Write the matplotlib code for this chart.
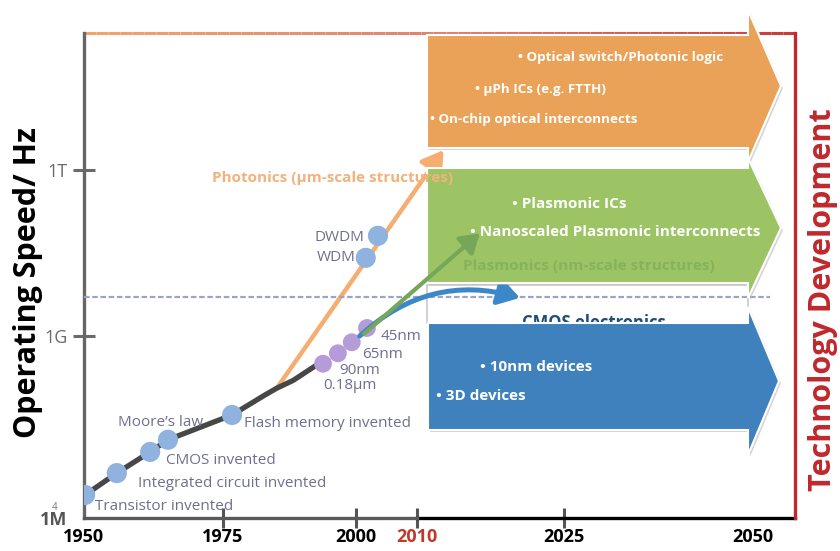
import numpy as np
import matplotlib
matplotlib.use('Agg')
import matplotlib.pyplot as plt
from matplotlib.patches import Polygon, Rectangle
from matplotlib.collections import LineCollection
from matplotlib.colors import LinearSegmentedColormap

plt.rcParams['font.family'] = ['Open Sans', 'DejaVu Sans']

# ---- data (year, operating speed in Hz) ----
milestone_labels = ['Transistor invented', 'Integrated circuit invented', 'CMOS invented',
                    'Moore\u2019s law', 'Flash memory invented']
milestone_years = [1950.2, 1955.9, 1961.9, 1965.1, 1976.7]
milestone_hz = [2.4e6, 5.5e6, 1.23e7, 1.95e7, 5.0e7]

trend_years = [1950.2, 1955.9, 1961.9, 1965.1, 1976.7, 1982.9, 1985.1, 1988.2, 1992.3, 1993.8]
trend_hz = [2.4e6, 5.5e6, 1.23e7, 1.95e7, 5.0e7, 1.07e8, 1.38e8, 1.86e8, 3.2e8, 3.5e8]

node_labels = ['0.18\u00b5m', '90nm', '65nm', '45nm']
node_years = [1993.8, 1996.6, 1999.2, 2001.8]
node_hz = [3.5e8, 5.2e8, 7.9e8, 1.4e9]

wdm_labels = ['WDM', 'DWDM']
wdm_years = [2001.6, 2003.6]
wdm_hz = [2.6e10, 6.5e10]

photonics_from = (1985.1, 1.38e8)
photonics_to = (2012.7, 2.3e12)
plasmonics_from = (2001.3, 1.1e9)
plasmonics_to = (2016.4, 7.2e10)
cmos_from = (2000.6, 1.0e9)
cmos_to = (2020.5, 4.9e9)
cmos_limit_hz = 5e9

year_ticks = [1950, 1975, 2000, 2010, 2025, 2050]
speed_ticks = [1e6, 1e9, 1e12]
speed_tick_labels = ['1M', '1G', '1T']

photonics_items = ['\u2022 Optical switch/Photonic logic', '\u2022 \u00b5Ph ICs (e.g. FTTH)',
                   '\u2022 On-chip optical interconnects']
plasmonics_items = ['\u2022 Plasmonic ICs', '\u2022 Nanoscaled Plasmonic interconnects']
cmos_items = ['\u2022 10nm devices', '\u2022 3D devices']

# ---- layout (pixels of the 840x551 picture) ----
W, H = 840, 551
YEAR_BREAKS = [1900, 1950, 1975, 2000, 2010, 2025, 2050, 2100]
YEAR_PIX = [-278, 0, 139, 272, 333, 480, 669, 1047]
LOG_BREAKS = [0, 6, 9, 12, 20]
LOG_PIX = [-364, 0, 182, 348, 790.6]


def x_fwd(v):
    return np.interp(v, YEAR_BREAKS, YEAR_PIX)


def x_inv(p):
    return np.interp(p, YEAR_PIX, YEAR_BREAKS)


def y_fwd(v):
    return np.interp(np.log10(np.clip(v, 1e-10, None)), LOG_BREAKS, LOG_PIX)


def y_inv(p):
    return 10 ** np.interp(p, LOG_PIX, LOG_BREAKS)


def P(x, y):
    return (x / W, 1 - y / H)


def arrow_shape(x0, x1, top, bot, head_top, head_bot, tip_x):
    tip_y = (head_top + head_bot) / 2
    return [P(x0, top), P(x1, top), P(x1, head_top), P(tip_x, tip_y),
            P(x1, head_bot), P(x1, bot), P(x0, bot)]


fig = plt.figure(figsize=(W / 100, H / 100), dpi=100)
ax = fig.add_axes([84 / W, 1 - 518 / H, 711 / W, 485 / H])
ax.set_xscale('function', functions=(x_fwd, x_inv))
ax.set_yscale('function', functions=(y_fwd, y_inv))
ax.set_xlim(1950, 2055.56)
ax.set_ylim(1e6, 10 ** 14.48)

# frame
ax.spines['left'].set_color('#666666')
ax.spines['left'].set_linewidth(2.4)
ax.spines['bottom'].set_color('#5a5a5a')
ax.spines['bottom'].set_linewidth(2.4)
ax.spines['bottom'].set_bounds(1950, 2010)
ax.spines['right'].set_color('#c0282d')
ax.spines['right'].set_linewidth(2.4)
ax.spines['top'].set_visible(False)
ax.axhline(1e6, xmin=x_fwd(2010) / 711, xmax=1, color='black', lw=2.4, zorder=2, clip_on=False)

cmap = LinearSegmentedColormap.from_list('top', ['#f2a46e', '#e08070', '#c8383a'])
xs = np.linspace(0, 1, 60)
segs = [[(xs[i], 1), (xs[i + 1], 1)] for i in range(len(xs) - 1)]
top_line = LineCollection(segs, colors=cmap(xs[:-1]), linewidths=2.2, transform=ax.transAxes,
                          clip_on=False, zorder=2)
ax.add_collection(top_line)

# ticks
ax.set_xticks(year_ticks)
ax.set_xticklabels([str(y) for y in year_ticks], fontsize=13, fontweight='bold')
ax.tick_params(axis='x', direction='inout', length=14, width=2.2, color='#555555', pad=0.5)
xt = ax.xaxis.get_major_ticks()
xt[0].tick1line.set_visible(False)
xt[5].tick1line.set_visible(False)
xt[3].tick1line.set_color('#e2806c')
xt[3].label1.set_color('#c0392b')
xt[4].tick1line.set_color('black')

ax.set_yticks(speed_ticks)
ax.set_yticklabels(speed_tick_labels, fontsize=13, color='#6b6b6b')
ax.tick_params(axis='y', direction='inout', length=16, width=2.2, color='#6b6b6b', pad=4)
ax.yaxis.get_major_ticks()[0].tick1line.set_visible(False)
ax.yaxis.get_major_ticks()[0].label1.set_color('#555555')
ax.yaxis.get_major_ticks()[0].label1.set_fontweight('bold')
ax.text(*P(55, 507), '4', transform=fig.transFigure, fontsize=7, color='#777777',
        ha='center', va='center')

# CMOS limit line
ax.axhline(cmos_limit_hz, xmin=0, xmax=0.965, color='#9aa4c8', lw=1.6,
           linestyle=(0, (2.5, 1.2)), zorder=4.3)

# trend and branches
ax.plot(trend_years, trend_hz, color='#474747', lw=3.8, solid_capstyle='round', zorder=3)
ax.annotate('', xy=photonics_to, xytext=photonics_from, zorder=2.5,
            arrowprops=dict(arrowstyle='-|>,head_length=0.8,head_width=0.5', color='#f5ad70',
                            lw=3.2, shrinkA=0, shrinkB=0, mutation_scale=16))
ax.annotate('', xy=plasmonics_to, xytext=plasmonics_from, zorder=6,
            arrowprops=dict(arrowstyle='-|>,head_length=0.7,head_width=0.45', color='#76a657',
                            lw=3.0, shrinkA=0, shrinkB=0, mutation_scale=16))
ax.annotate('', xy=cmos_to, xytext=cmos_from, zorder=4.6,
            arrowprops=dict(arrowstyle='-|>,head_length=0.8,head_width=0.5', color='#3b87c8',
                            lw=3.6, shrinkA=0, shrinkB=0, mutation_scale=16,
                            connectionstyle='arc3,rad=-0.28'))

ax.scatter(milestone_years, milestone_hz, s=210, color='#8fb2de', edgecolors='none', zorder=4)
ax.scatter(wdm_years, wdm_hz, s=210, color='#8fb2de', edgecolors='none', zorder=4)
ax.scatter(node_years, node_hz, s=165, color='#b59bd8', edgecolors='none', zorder=4)

# label offsets in pixels (right, up) from their circle
label_kw = dict(textcoords='offset pixels', fontsize=11, color='#6f6f8f', va='center', zorder=4.1)
milestone_offsets = [(10, -12), (21, -10), (16, -9), (-7, 17), (12, -9)]
milestone_ha = ['left', 'left', 'left', 'center', 'left']
for lab, x, y, off, ha in zip(milestone_labels, milestone_years, milestone_hz, milestone_offsets, milestone_ha):
    ax.annotate(lab, (x, y), xytext=off, ha=ha, **label_kw)
node_offsets = [(27, -22), (22, -17), (31, -12), (34, -9)]
for lab, x, y, off in zip(node_labels, node_years, node_hz, node_offsets):
    ax.annotate(lab, (x, y), xytext=off, ha='center', **label_kw)
wdm_offsets = [(-10, 0), (-14, -2)]
for lab, x, y, off in zip(wdm_labels, wdm_years, wdm_hz, wdm_offsets):
    ax.annotate(lab, (x, y), xytext=off, ha='right', **label_kw)

# technology boxes
boxes = [
    (arrow_shape(427, 748, 35, 148, 10, 162, 781), '#e9a258'),
    (arrow_shape(427, 748, 168, 283, 158, 298, 781), '#9cc465'),
    (arrow_shape(428, 748, 323, 430, 307, 455, 779), '#3e81bd'),
]
ax.add_patch(Rectangle(P(427, 323), 321 / W, 38 / H, transform=fig.transFigure, facecolor='white',
                       edgecolor='#c8c8c8', lw=1.2, clip_on=False, zorder=4.2))
for verts, col in boxes:
    shadow = [(vx + 2 / W, vy - 2 / H) for vx, vy in verts]
    ax.add_patch(Polygon(shadow, closed=True, transform=fig.transFigure, facecolor='#b8b8b8',
                         edgecolor='none', alpha=0.6, clip_on=False, zorder=4.9))
    ax.add_patch(Polygon(verts, closed=True, transform=fig.transFigure, facecolor=col,
                         edgecolor='white', lw=1.5, clip_on=False, zorder=5))

ax.text(*P(522, 323), 'CMOS electronics', transform=fig.transFigure, fontsize=12,
        color='#1f4e79', fontweight='bold', va='center', zorder=4.5)
ax.text(*P(212, 178), 'Photonics (\u00b5m-scale structures)', transform=fig.transFigure,
        fontsize=11, color='#f2b27e', fontweight='bold', va='center', zorder=5.5)
ax.text(*P(463, 266), 'Plasmonics (nm-scale structures)', transform=fig.transFigure,
        fontsize=11, color='#86b35a', fontweight='bold', va='center', zorder=5.5)

item_kw = dict(transform=fig.transFigure, color='white', fontweight='bold', va='center', zorder=7)
for txt, (x, y) in zip(photonics_items, [(518, 58), (475, 89), (430, 119)]):
    ax.text(*P(x, y), txt, fontsize=9.7, **item_kw)
for txt, (x, y) in zip(plasmonics_items, [(512, 204), (470, 232)]):
    ax.text(*P(x, y), txt, fontsize=11, **item_kw)
for txt, (x, y) in zip(cmos_items, [(480, 367), (436, 396)]):
    ax.text(*P(x, y), txt, fontsize=11, **item_kw)

fig.text(*P(28, 283), 'Operating Speed/ Hz', rotation=90, ha='center', va='center',
         fontsize=22, fontweight='bold', color='black')
fig.text(*P(823, 300), 'Technology Development', rotation=90, ha='center', va='center',
         fontsize=22, fontweight='bold', color='#c0282d')

fig.savefig('out.png', dpi=100)
